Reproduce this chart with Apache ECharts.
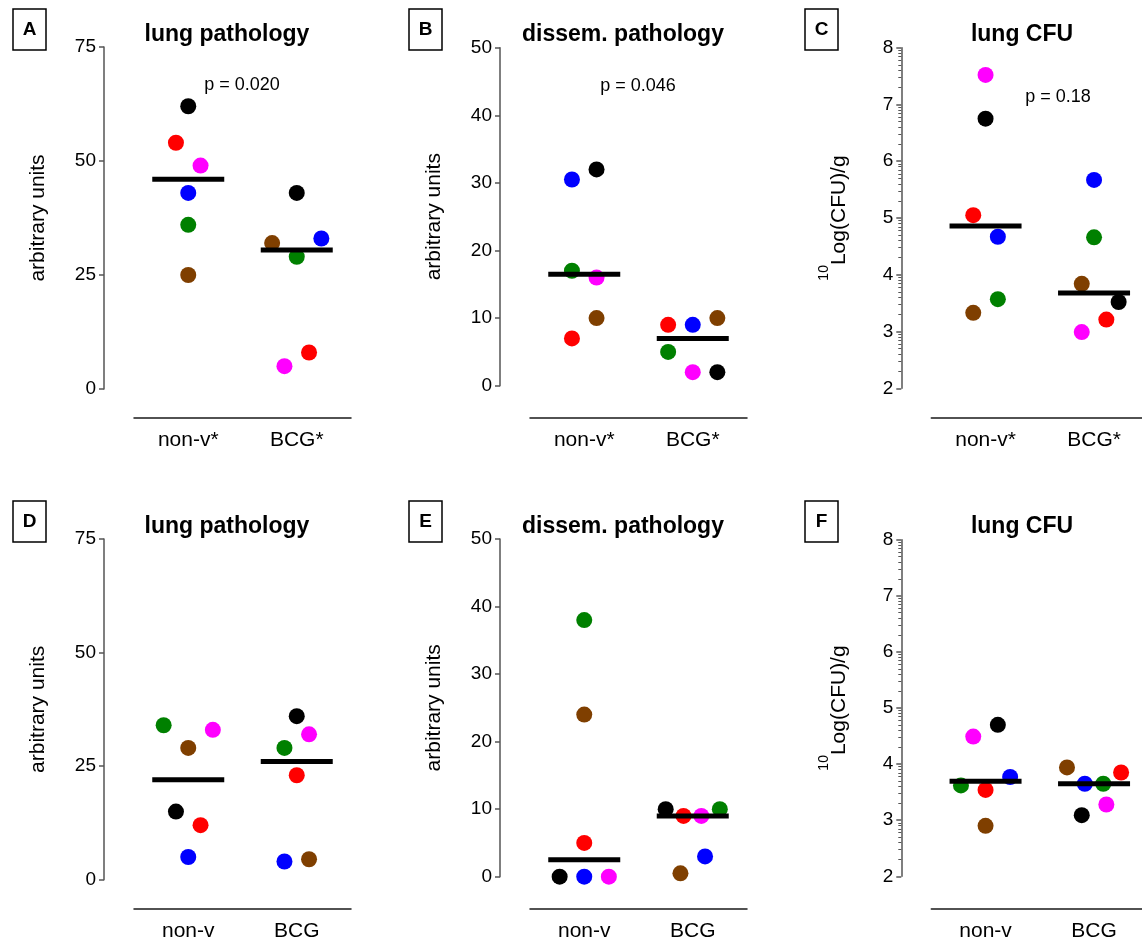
<!DOCTYPE html>
<html>
<head>
<meta charset="utf-8">
<script src="https://cdn.jsdelivr.net/npm/echarts@6/dist/echarts.min.js"></script>
<style>
html,body{margin:0;padding:0;background:#fff}
#chart{width:1142px;height:943px}
</style>
</head>
<body>
<div id="chart"></div>
<script>
// every group lists its mice in the same colour order
let mouseColors = ['#000000', '#ff0000', '#ff00ff', '#0000ff', '#008000', '#7f3f00'];
let catsStar = ['non-v*', 'BCG*'];
let catsPlain = ['non-v', 'BCG'];

// order: black, red, magenta, blue, green, brown
let lungPathNonvStar = [62, 54, 49, 43, 36, 25];
let lungPathBcgStar = [43, 8, 5, 33, 29, 32];
let dissemNonvStar = [32, 7, 16, 30.5, 17, 10];
let dissemBcgStar = [2, 9, 2, 9, 5, 10];
let cfuNonvStar = [6.75, 5.05, 7.52, 4.67, 3.57, 3.33];
let cfuBcgStar = [3.52, 3.21, 2.99, 5.67, 4.66, 3.84];
let lungPathNonv = [15, 12, 33, 5, 34, 29];
let lungPathBcg = [36, 23, 32, 4, 29, 4.5];
let dissemNonv = [0, 5, 0, 0, 38, 24];
let dissemBcg = [10, 9, 9, 3, 10, 0.5];
let cfuNonv = [4.70, 3.54, 4.49, 3.77, 3.62, 2.90];
let cfuBcg = [3.09, 3.85, 3.28, 3.65, 3.65, 3.94];

let pValues = ['p = 0.020', 'p = 0.046', 'p = 0.18'];

// y axis ranges: [min, max, interval]
let yPath = [0, 75, 25];
let yDissem = [0, 50, 10];
let yCfu = [2, 8, 1];

// horizontal scatter of the dots, in dot widths
let jitterA = [[0, -1, 1, 0, 0, 0], [0, 1, -1, 2, 0, -2]];
let jitterB = [[1, -1, 1, -1, -1, 1], [2, -2, 0, 0, -2, 2]];
let jitterC = [[0, -1, 0, 1, 1, -1], [2, 1, -1, 0, 0, -1]];
let jitterD = [[-1, 1, 2, 0, -2, 0], [0, 0, 1, -1, -1, 1]];
let jitterE = [[-2, 0, 2, 0, 0, 0], [-2.2, -0.75, 0.7, 1, 2.2, -1]];
let jitterF = [[1, 0, -1, 2, -2, 0], [-1, 2.2, 1, -0.75, 0.75, -2.2]];

let panels = [
    {letter: 'A', title: 'lung pathology', cats: catsStar, groups: [lungPathNonvStar, lungPathBcgStar], jitter: jitterA, y: yPath, p: pValues[0], cfu: false},
    {letter: 'B', title: 'dissem. pathology', cats: catsStar, groups: [dissemNonvStar, dissemBcgStar], jitter: jitterB, y: yDissem, p: pValues[1], cfu: false},
    {letter: 'C', title: 'lung CFU', cats: catsStar, groups: [cfuNonvStar, cfuBcgStar], jitter: jitterC, y: yCfu, p: pValues[2], cfu: true},
    {letter: 'D', title: 'lung pathology', cats: catsPlain, groups: [lungPathNonv, lungPathBcg], jitter: jitterD, y: yPath, p: null, cfu: false},
    {letter: 'E', title: 'dissem. pathology', cats: catsPlain, groups: [dissemNonv, dissemBcg], jitter: jitterE, y: yDissem, p: null, cfu: false},
    {letter: 'F', title: 'lung CFU', cats: catsPlain, groups: [cfuNonv, cfuBcg], jitter: jitterF, y: yCfu, p: null, cfu: true}
];

// pixel layout of each panel: y axis line x, top / bottom of the y range, x axis line y
let layout = [
    {ax: 104, top: 47, bottom: 389, xLine: 418},
    {ax: 500, top: 47.7, bottom: 385.7, xLine: 418},
    {ax: 901.3, top: 47.7, bottom: 388.3, xLine: 418},
    {ax: 104, top: 539, bottom: 879.7, xLine: 909},
    {ax: 500, top: 539, bottom: 876.7, xLine: 909},
    {ax: 901.3, top: 539.7, bottom: 876.3, xLine: 909}
];
let pPos = [[242, 85], [638, 86], [1058, 97]];

let font = 'Liberation Sans, Arial, sans-serif';
let step = 12.3;

function median(arr){
    let s = arr.slice().sort(function(a, b){ return a - b; });
    let m = Math.floor(s.length / 2);
    return s.length % 2 ? s[m] : (s[m - 1] + s[m]) / 2;
}

// log-style minor ticks used on the CFU axes
function logMinor(min, max){
    let out = [];
    for(let n = min; n < max; n++){
        for(let k = 2; k <= 9; k++){
            out.push(n + Math.log10(k));
        }
    }
    return out;
}

let grids = [], xAxes = [], yAxes = [], series = [], graphics = [];

panels.forEach(function(pn, i){
    let L = layout[i];
    grids.push({left: L.ax + 30, top: L.top, width: 217, height: L.bottom - L.top, outerBoundsMode: 'none', containLabel: false});

    xAxes.push({
        type: 'category', gridIndex: i, data: pn.cats, offset: L.xLine - L.bottom,
        axisLine: {onZero: false, lineStyle: {color: '#1a1a1a', width: 1.5}},
        axisTick: {alignWithLabel: true, length: 6, lineStyle: {color: '#333', width: 1.5}},
        axisLabel: {color: '#000', fontSize: 21, fontFamily: font, margin: 12},
        splitLine: {show: false}
    });

    let yIdx = yAxes.length;
    let yName = pn.cfu ? {
        name: '{sup|10}Log(CFU)/g', gap: 40,
        style: {color: '#000', fontSize: 21, fontFamily: font, lineHeight: 44,
            rich: {sup: {fontSize: 14, lineHeight: 14, fontFamily: font, color: '#000', verticalAlign: 'top', padding: [0, 0, 30, 0]}}}
    } : {
        name: 'arbitrary units', gap: 55,
        style: {color: '#000', fontSize: 21, fontFamily: font}
    };
    yAxes.push({
        type: 'value', gridIndex: i, min: pn.y[0], max: pn.y[1], interval: pn.y[2], offset: 30,
        name: yName.name, nameLocation: 'middle', nameGap: yName.gap, nameRotate: 90,
        nameTextStyle: yName.style,
        axisLine: {show: true, lineStyle: {color: '#555', width: 1.5}},
        axisTick: {show: true, length: 5, lineStyle: {color: '#555', width: 1.5}},
        axisLabel: {color: '#000', fontSize: 19, fontFamily: font, margin: 8},
        splitLine: {show: false}
    });
    if(pn.cfu){
        yAxes.push({
            type: 'value', gridIndex: i, min: pn.y[0], max: pn.y[1], interval: pn.y[2], offset: 30,
            position: 'left',
            axisLine: {show: false},
            axisTick: {show: true, length: 3, customValues: logMinor(pn.y[0], pn.y[1]), lineStyle: {color: '#555', width: 1}},
            axisLabel: {show: false},
            splitLine: {show: false}
        });
    }

    pn.groups.forEach(function(vals, g){
        series.push({
            type: 'scatter', xAxisIndex: i, yAxisIndex: yIdx, symbolSize: 16, z: 2,
            data: vals.map(function(v, k){
                return {
                    value: [g, v],
                    symbolOffset: [pn.jitter[g][k] * step, 0],
                    itemStyle: {color: mouseColors[k], opacity: 1}
                };
            })
        });
    });
    // median bars
    series.push({
        type: 'scatter', xAxisIndex: i, yAxisIndex: yIdx, symbol: 'rect', symbolSize: [72, 5], z: 3,
        itemStyle: {color: '#000', opacity: 1},
        data: pn.groups.map(function(vals, g){ return [g, median(vals)]; })
    });

    let col = i % 3, row = Math.floor(i / 3);
    let boxX = [13, 409, 805][col], boxY = [9, 501][row];
    graphics.push({
        type: 'rect', shape: {x: boxX, y: boxY, width: 33, height: 41},
        style: {fill: '#fff', stroke: '#000', lineWidth: 1.5}
    });
    graphics.push({
        type: 'text', x: boxX + 16.5, y: boxY + 21,
        style: {text: pn.letter, fill: '#000', font: 'bold 19px ' + font, textAlign: 'center', textVerticalAlign: 'middle'}
    });
    graphics.push({
        type: 'text', x: [227, 623, 1022][col], y: [35, 527][row],
        style: {text: pn.title, fill: '#000', font: 'bold 23px ' + font, textAlign: 'center', textVerticalAlign: 'middle'}
    });
    if(pn.p){
        graphics.push({
            type: 'text', x: pPos[col][0], y: pPos[col][1],
            style: {text: pn.p, fill: '#000', font: '18px ' + font, textAlign: 'center', textVerticalAlign: 'middle'}
        });
    }
});

let myChart = echarts.init(document.getElementById('chart'));
myChart.setOption({
    animation: false,
    backgroundColor: '#fff',
    grid: grids,
    xAxis: xAxes,
    yAxis: yAxes,
    series: series,
    graphic: graphics
});
</script>
</body>
</html>
